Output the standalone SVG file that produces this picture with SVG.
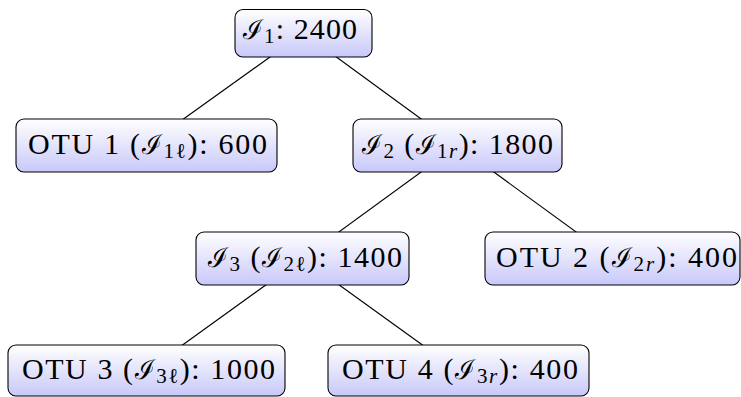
<svg xmlns="http://www.w3.org/2000/svg" width="741" height="397" viewBox="0 0 741 397">
<defs>
<linearGradient id="g" x1="0" y1="0" x2="0" y2="1">
<stop offset="0" stop-color="#ffffff"/>
<stop offset="1" stop-color="#c8c8fa"/>
</linearGradient>
<style>
.box{fill:url(#g);stroke:#000;stroke-width:1.1}
.t{font-family:"Liberation Serif","DejaVu Serif",serif;font-size:30px;fill:#000}
.s{font-size:21px}
.i{font-style:italic}
.cal{font-family:"DejaVu Serif","Liberation Serif",serif;font-style:normal;font-size:27px}
.e{stroke:#000;stroke-width:1.1;fill:none}
</style>
</defs>
<g id="connectors">
<line class="e" x1="303.5" y1="33" x2="146.5" y2="145.5"/>
<line class="e" x1="303.5" y1="33" x2="457.5" y2="145.5"/>
<line class="e" x1="457.5" y1="145.5" x2="302.5" y2="258.5"/>
<line class="e" x1="457.5" y1="145.5" x2="612.5" y2="258.5"/>
<line class="e" x1="302.5" y1="258.5" x2="146.5" y2="371"/>
<line class="e" x1="302.5" y1="258.5" x2="458.5" y2="371"/>
</g>
<g id="n1">
<rect class="box" x="235" y="9.5" width="137" height="47.5" rx="8"/>
<text class="t" x="243" y="39" textLength="114" lengthAdjust="spacing"><tspan class="cal">ℐ</tspan><tspan class="s" dy="4">1</tspan><tspan dy="-4">: 2400</tspan></text>
</g>
<g id="otu1">
<rect class="box" x="16" y="119" width="261" height="53" rx="8"/>
<text class="t" x="28" y="154" textLength="239" lengthAdjust="spacing">OTU 1 (<tspan class="cal">ℐ</tspan><tspan class="s" dy="4">1ℓ</tspan><tspan dy="-4">): 600</tspan></text>
</g>
<g id="n2">
<rect class="box" x="353" y="119" width="209" height="53" rx="8"/>
<text class="t" x="362" y="154" textLength="191" lengthAdjust="spacing"><tspan class="cal">ℐ</tspan><tspan class="s" dy="4">2</tspan><tspan dy="-4"> (</tspan><tspan class="cal">ℐ</tspan><tspan class="s" dy="4">1<tspan class="i">r</tspan></tspan><tspan dy="-4">): 1800</tspan></text>
</g>
<g id="n3">
<rect class="box" x="196" y="232" width="213" height="53" rx="8"/>
<text class="t" x="208" y="267" textLength="194" lengthAdjust="spacing"><tspan class="cal">ℐ</tspan><tspan class="s" dy="4">3</tspan><tspan dy="-4"> (</tspan><tspan class="cal">ℐ</tspan><tspan class="s" dy="4">2ℓ</tspan><tspan dy="-4">): 1400</tspan></text>
</g>
<g id="otu2">
<rect class="box" x="485" y="232" width="255" height="53" rx="8"/>
<text class="t" x="496" y="267" textLength="241" lengthAdjust="spacing">OTU 2 (<tspan class="cal">ℐ</tspan><tspan class="s" dy="4">2<tspan class="i">r</tspan></tspan><tspan dy="-4">): 400</tspan></text>
</g>
<g id="otu3">
<rect class="box" x="8" y="345" width="277" height="51" rx="8"/>
<text class="t" x="22" y="379" textLength="253" lengthAdjust="spacing">OTU 3 (<tspan class="cal">ℐ</tspan><tspan class="s" dy="4">3ℓ</tspan><tspan dy="-4">): 1000</tspan></text>
</g>
<g id="otu4">
<rect class="box" x="328" y="345" width="261" height="51" rx="8"/>
<text class="t" x="342" y="379" textLength="236" lengthAdjust="spacing">OTU 4 (<tspan class="cal">ℐ</tspan><tspan class="s" dy="4">3<tspan class="i">r</tspan></tspan><tspan dy="-4">): 400</tspan></text>
</g>
</svg>
